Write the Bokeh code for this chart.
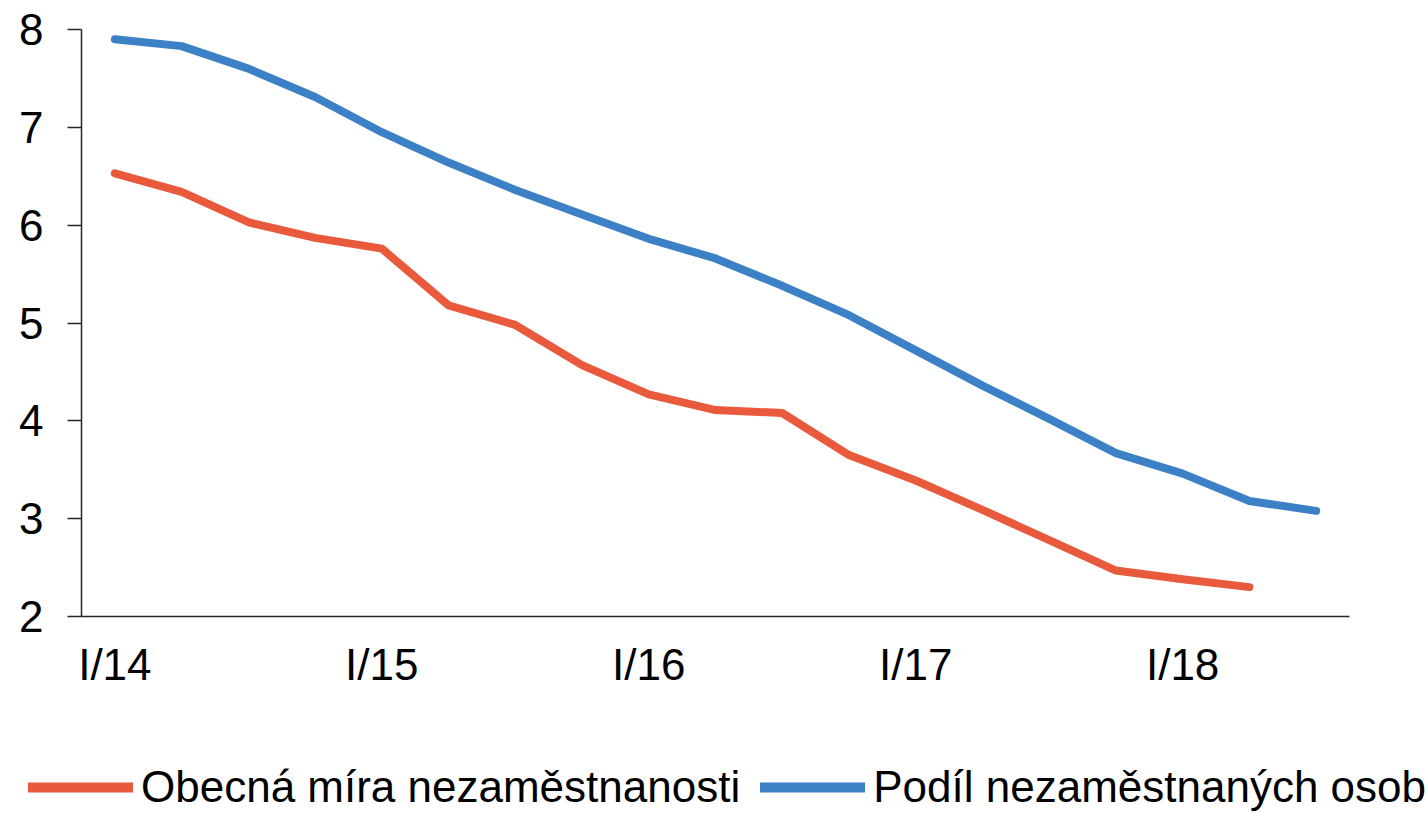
from bokeh.plotting import figure
from bokeh.models import (FactorRange, Range1d, Legend, LegendItem, ColumnDataSource,
                          CustomJSTickFormatter)
from bokeh.embed import file_html
from bokeh.resources import INLINE

quarters = []
for yr in ["14", "15", "16", "17", "18"]:
    for q in ["I", "II", "III", "IV"]:
        quarters.append(f"{q}/{yr}")
quarters = quarters[:19]  # I/14 .. III/18

obecna = [6.53, 6.34, 6.03, 5.87, 5.76, 5.18, 4.98, 4.57, 4.27, 4.11, 4.08,
          3.65, 3.39, 3.09, 2.78, 2.47, 2.38, 2.30]
podil = [7.90, 7.83, 7.60, 7.31, 6.95, 6.64, 6.36, 6.11, 5.86, 5.66, 5.38,
         5.08, 4.72, 4.36, 4.02, 3.67, 3.46, 3.18, 3.08]

label_obecna = "Obecná míra nezaměstnanosti"
label_podil = "Podíl nezaměstnaných osob"

RED = "#E95A3C"
BLUE = "#3C80C6"
FONT = "Liberation Sans"
W = 1420

p = figure(width=W, height=700, x_range=FactorRange(*quarters),
           y_range=Range1d(2, 8), output_backend="svg", toolbar_location=None,
           min_border_left=81, min_border_right=W - 1349, min_border_top=29,
           min_border_bottom=84)
p.outline_line_color = None
p.xgrid.grid_line_color = None
p.ygrid.grid_line_color = None

src_r = ColumnDataSource(dict(x=quarters[:len(obecna)], y=obecna))
src_b = ColumnDataSource(dict(x=quarters, y=podil))
r1 = p.line("x", "y", source=src_r, line_color=RED, line_width=8,
            line_cap="round", line_join="round")
r2 = p.line("x", "y", source=src_b, line_color=BLUE, line_width=8,
            line_cap="round", line_join="round")

# axes
p.yaxis.ticker = [2, 3, 4, 5, 6, 7, 8]
p.yaxis.minor_tick_line_color = None
p.yaxis.major_tick_out = 14
p.yaxis.major_tick_in = 0
p.yaxis.major_label_standoff = 24
for ax in (p.xaxis, p.yaxis):
    ax.axis_line_color = "#262626"
    ax.axis_line_width = 1.5
    ax.major_tick_line_color = "#262626"
    ax.major_tick_line_width = 1.5
    ax.major_label_text_font = FONT
    ax.major_label_text_font_size = "44px"
    ax.major_label_text_color = "#000000"
p.xaxis.major_tick_line_color = None
p.xaxis.major_tick_out = 0
p.xaxis.major_label_standoff = 23
p.xaxis.formatter = CustomJSTickFormatter(
    code="return tick.startsWith('I/') ? tick : '';")

# legend strip below the chart (separate root so it is not frame-aligned)
q = figure(width=1427, height=113, x_range=Range1d(0, 1), y_range=Range1d(100, 101),
           output_backend="svg", toolbar_location=None,
           x_axis_location=None, y_axis_location=None,
           min_border_left=0, min_border_right=0, min_border_top=0,
           min_border_bottom=0)
q.outline_line_color = None
q.xgrid.grid_line_color = None
q.ygrid.grid_line_color = None
lr = q.line([0, 1], [0, 0], line_color=RED, line_width=10, line_cap="round")
lb = q.line([0, 1], [0, 0], line_color=BLUE, line_width=10, line_cap="round")

legend = Legend(items=[LegendItem(label=label_obecna, renderers=[lr]),
                       LegendItem(label=label_podil, renderers=[lb])],
                location=(28, 1), orientation="horizontal",
                glyph_width=105, glyph_height=50, label_height=50,
                label_standoff=8, spacing=20, padding=0, margin=0,
                label_text_font=FONT, label_text_font_size="44px",
                label_text_color="#000000",
                border_line_color=None, background_fill_alpha=0)
q.add_layout(legend, "center")

open("out.html", "w").write(file_html([p, q], INLINE))
